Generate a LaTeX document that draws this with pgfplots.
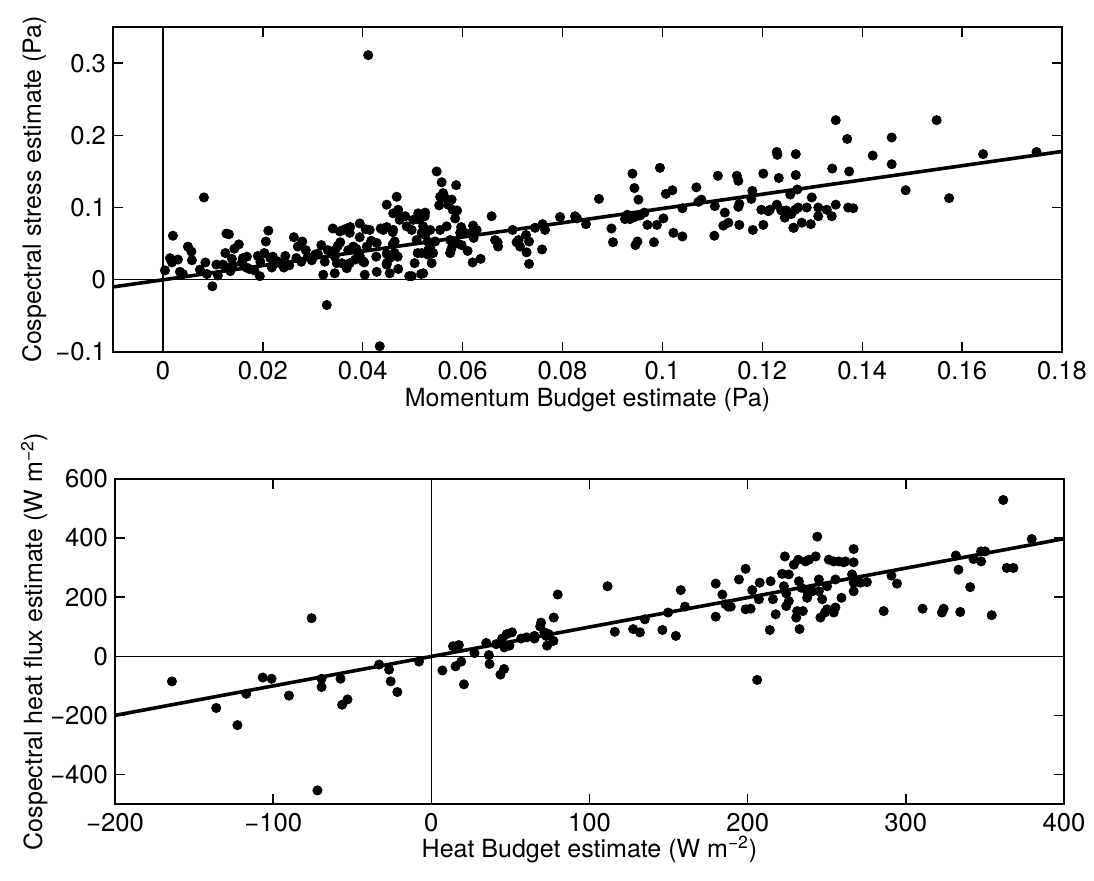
\documentclass[border=0pt]{standalone}
\usepackage{fontspec}
\setmainfont{TeX Gyre Heros}
\usepackage{pgfplots}
\pgfplotsset{compat=1.18}

\pgfplotstableread{
x y
0.0004 0.013
0.002 0.061
0.0014 0.030
0.003 0.028
0.0018 0.024
0.0034 0.011
0.004 0.008
0.005 0.046
0.0057 0.039
0.0058 0.027
0.0082 0.114
0.0074 0.014
0.0085 0.024
0.0088 0.008
0.0099 -0.009
0.0107 0.021
0.011 0.006
0.012 0.021
0.0127 0.064
0.0132 0.063
0.0125 0.037
0.0138 0.029
0.014 0.020
0.0143 0.043
0.0152 0.049
0.0168 0.032
0.0173 0.015
0.0167 0.017
0.0194 0.005
0.019 0.033
0.0203 0.037
0.0195 0.025
0.0211 0.068
0.0206 0.053
0.0215 0.030
0.0225 0.023
0.0218 0.017
0.022 0.032
0.0245 0.033
0.0242 0.017
0.0235 0.023
0.0262 0.059
0.0279 0.053
0.027 0.046
0.0286 0.041
0.0267 0.030
0.0277 0.025
0.029 0.032
0.0158 0.024
0.0183 0.013
0.0228 0.026
0.0253 0.020
0.0298 0.027
0.0305 0.035
0.0125 0.018
0.0135 0.012
0.016 0.030
0.0317 0.048
0.033 0.041
0.0321 0.007
0.0344 0.009
0.0324 0.025
0.0344 0.032
0.0358 0.023
0.0368 0.016
0.0371 0.041
0.0354 0.067
0.0361 0.069
0.0368 0.071
0.0328 -0.035
0.0355 0.052
0.035 0.047
0.0345 0.041
0.0374 0.065
0.0381 0.046
0.0391 0.037
0.0374 0.023
0.0348 0.023
0.0394 0.078
0.0394 0.059
0.0387 0.043
0.0394 0.033
0.0375 0.073
0.034 0.071
0.031 0.036
0.0385 0.028
0.0411 0.311
0.0434 -0.092
0.0406 0.070
0.0436 0.071
0.0448 0.073
0.0417 0.054
0.0427 0.032
0.0400 0.026
0.0403 0.024
0.0448 0.036
0.0454 0.030
0.0470 0.032
0.0414 0.069
0.0408 0.046
0.0428 0.051
0.0448 0.023
0.0428 0.011
0.0404 0.007
0.0464 0.037
0.0448 0.104
0.0468 0.115
0.0470 0.095
0.0485 0.088
0.0441 0.069
0.0461 0.092
0.0471 0.097
0.0474 0.083
0.0461 0.069
0.0464 0.053
0.0488 0.074
0.0498 0.069
0.0448 0.021
0.0454 0.009
0.0471 0.015
0.0498 0.005
0.0493 0.005
0.0460 0.066
0.0460 0.049
0.0501 0.083
0.0511 0.092
0.0514 0.083
0.0524 0.088
0.0521 0.074
0.0535 0.069
0.0518 0.065
0.0508 0.055
0.0531 0.041
0.0541 0.037
0.0538 0.023
0.0518 0.037
0.0504 0.023
0.0521 0.009
0.0517 0.008
0.0555 0.069
0.0568 0.074
0.0575 0.055
0.0575 0.037
0.0595 0.065
0.0548 0.150
0.0558 0.135
0.0561 0.120
0.0555 0.115
0.0587 0.131
0.0578 0.111
0.0571 0.104
0.0589 0.096
0.0525 0.093
0.0580 0.097
0.0585 0.085
0.0510 0.037
0.0530 0.035
0.0535 0.044
0.0530 0.053
0.0545 0.053
0.0525 0.062
0.0580 0.048
0.0577 0.042
0.0553 0.103
0.0565 0.113
0.0605 0.065
0.0598 0.048
0.0588 0.051
0.0628 0.069
0.0622 0.058
0.0620 0.024
0.0636 0.029
0.0658 0.088
0.0671 0.046
0.0665 0.055
0.0670 0.052
0.0700 0.069
0.0708 0.052
0.0715 0.046
0.0733 0.053
0.0733 0.022
0.0745 0.072
0.0760 0.077
0.0759 0.042
0.0597 0.073
0.0621 0.075
0.0620 0.066
0.0610 0.040
0.0727 0.062
0.0712 0.055
0.0728 0.038
0.0765 0.069
0.0795 0.087
0.0825 0.088
0.0829 0.085
0.0847 0.077
0.0873 0.112
0.0898 0.071
0.0901 0.052
0.0925 0.084
0.0935 0.084
0.0945 0.087
0.0940 0.147
0.0944 0.127
0.0952 0.111
0.0950 0.053
0.0946 0.048
0.0964 0.093
0.0970 0.076
0.0989 0.076
0.0983 0.052
0.1002 0.085
0.0995 0.155
0.1007 0.119
0.1020 0.124
0.1022 0.065
0.1040 0.060
0.1040 0.099
0.1068 0.128
0.1078 0.111
0.1072 0.108
0.1105 0.102
0.1125 0.093
0.1122 0.075
0.1132 0.079
0.1104 0.061
0.1111 0.144
0.1149 0.144
0.1152 0.137
0.1154 0.105
0.1152 0.101
0.1154 0.076
0.1180 0.123
0.1178 0.112
0.1181 0.069
0.0930 0.090
0.0955 0.089
0.1202 0.147
0.1198 0.097
0.1202 0.076
0.1212 0.095
0.1215 0.097
0.1229 0.177
0.1230 0.173
0.1233 0.141
0.1229 0.104
0.1238 0.096
0.1248 0.096
0.1267 0.174
0.1267 0.145
0.1270 0.125
0.1256 0.118
0.1266 0.097
0.1263 0.072
0.1272 0.100
0.1289 0.100
0.1299 0.114
0.1312 0.100
0.1329 0.097
0.1339 0.088
0.1312 0.088
0.1297 0.077
0.1279 0.079
0.1262 0.072
0.1245 0.086
0.1258 0.091
0.1340 0.154
0.1347 0.221
0.1347 0.104
0.1370 0.195
0.1374 0.150
0.1372 0.100
0.1382 0.099
0.1421 0.172
0.1459 0.197
0.1459 0.160
0.1487 0.124
0.1549 0.221
0.1574 0.113
0.1642 0.174
0.1749 0.177
}\stressdata

\pgfplotstableread{
x y
-164 -85
-136 -175
-122.6 -233
-117 -127
-106.6 -72
-101 -76
-90 -133
-75.7 129
-72 -454
-69.4 -76
-69.4 -104
-57.4 -76
-56.4 -164
-53 -146
-33 -28
-26.7 -45
-25.7 -85
-21.5 -121
-7.8 -18
7 -48
13.7 34
17.4 38
15.3 -34
18.9 -18
20.6 -95
27.3 11
34.7 45
36.4 4
36.8 -26
41 41
43.7 -62
46 -43
44.8 60
47.7 75
51 81
46.2 30
49.4 36
56.8 60
60.3 64
65.2 69
65.2 60
69.4 114
68.8 101
71.5 81
72.6 69
74.2 75
73.2 36
77.2 52
77.4 131
79.9 209
111.4 237
116 83
127.6 92
131.9 81
135 125
146.1 89
149.7 148
154.6 69
157.7 224
160.4 168
179.8 246
179.8 134
184 209
187.8 168
189.3 168
186 176
194.5 260
198.7 296
198.7 159
201.9 161
202.9 224
207.1 193
207.6 249
206 -80
214 89
214.5 254
216 193
217.7 142
221.8 279
223.5 338
226 277
222.9 237
224.4 213
226 187
224.4 170
229.2 310
232 327
236.6 321
238.8 327
232.4 254
234 232
237.6 220
237.6 198
231.3 153
234.9 153
230.7 131
232.8 92
243 338
244 405
240.8 220
245 260
245 220
247.1 193
246 131
250.2 237
250.2 159
248.8 148
251.3 327
254.4 321
257.6 321
260.7 318
261.8 321
255.5 260
255.5 165
254.4 148
259.3 198
267 363
267 318
266 277
267 249
267 220
268.1 254
271.3 249
275.4 251
286 153
290.9 273
294.4 246
310.6 161
322.8 148
323.9 161
331.6 341
333.3 293
334.4 150
340.7 234
342.8 329
347.6 355
347.6 321
350.1 355
354.3 139
361.6 529
363.8 299
368 299
379.6 397
}\heatdata

\begin{document}
\begin{tikzpicture}
\useasboundingbox (-56.5pt,13.5pt) rectangle (490.5pt,-426.5pt);
\pgfplotsset{
  every axis/.append style={
    scale only axis,
    width=474.5pt, height=162.5pt,
    axis line style={line width=0.9pt},
    tick style={line width=0.7pt, black},
    major tick length=5pt,
    tick align=inside,
    tick label style={font=\fontsize{12.8}{14}\selectfont},
    label style={font=\fontsize{12.5}{14}\selectfont},
    xticklabel style={yshift=-1pt},
  },
  dots/.style={only marks, mark=*, mark size=2.3pt, black},
  fit/.style={black, line width=1.8pt, no marks},
  zero/.style={black, line width=0.7pt, no marks},
}
\begin{axis}[
  at={(0,0)}, anchor=north west,
  xmin=-0.01, xmax=0.18, ymin=-0.1, ymax=0.35,
  xtick={0,0.02,0.04,0.06,0.08,0.1,0.12,0.14,0.16,0.18},
  xticklabels={0,0.02,0.04,0.06,0.08,0.1,0.12,0.14,0.16,0.18},
  ytick={-0.1,0,0.1,0.2,0.3},
  yticklabels={−0.1,0,0.1,0.2,0.3},
  xlabel={Momentum Budget estimate (Pa)},
  ylabel={Cospectral stress estimate (Pa)},
  xlabel style={at={(axis description cs:0.5,-0.148)}, anchor=center},
  ylabel style={at={(axis description cs:-0.083,0.5)}, anchor=center},
]
\addplot[zero] coordinates {(-0.01,0) (0.18,0)};
\addplot[zero] coordinates {(0,-0.1) (0,0.35)};
\addplot[fit] coordinates {(-0.01,-0.0099) (0.18,0.1777)};
\addplot[dots] table[x=x,y=y] {\stressdata};
\end{axis}

\begin{axis}[
  at={(1pt,-226pt)}, anchor=north west,
  xmin=-200, xmax=400, ymin=-500, ymax=600,
  xtick={-200,-100,0,100,200,300,400},
  xticklabels={−200,−100,0,100,200,300,400},
  ytick={-400,-200,0,200,400,600},
  yticklabels={−400,−200,0,200,400,600},
  xlabel={Heat Budget estimate (W m\textsuperscript{−2})},
  ylabel={Cospectral heat flux estimate (W m\textsuperscript{−2})},
  xlabel style={at={(axis description cs:0.5,-0.14)}, anchor=center},
  ylabel style={at={(axis description cs:-0.085,0.5)}, anchor=center},
]
\addplot[zero] coordinates {(-200,0) (400,0)};
\addplot[zero] coordinates {(0,-500) (0,600)};
\addplot[fit] coordinates {(-200,-200) (400,398)};
\addplot[dots] table[x=x,y=y] {\heatdata};
\end{axis}
\end{tikzpicture}
\end{document}
